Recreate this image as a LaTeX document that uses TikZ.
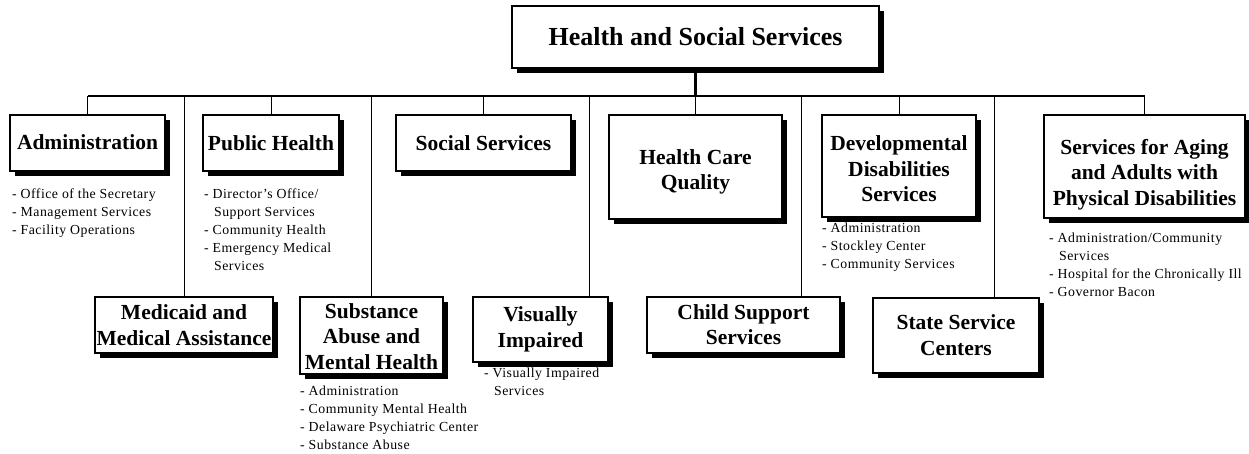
\documentclass[tikz,border=0pt]{standalone}
\usepackage{fontspec}
\setmainfont{Liberation Serif}
\newfontfamily\listfont[LetterSpace=3.5]{Liberation Serif}
\usetikzlibrary{shadows}
\newcommand{\orgtext}[2]{\raisebox{-#1}[\height][\depth]{\begin{tabular}{@{}c@{}}#2\end{tabular}}}
\begin{document}
\begin{tikzpicture}[x=1pt,y=-1pt,
  orgbox/.style={draw, line width=1.3pt, fill=white, inner sep=0pt, align=center,
    font=\bfseries\fontsize{21.5}{25.5}\selectfont,
    drop shadow={shadow xshift=5pt, shadow yshift=-5pt, fill=black, opacity=1}},
  sublist/.style={anchor=north west, inner sep=0pt, align=left,
    font=\listfont\fontsize{13.8}{18}\selectfont},
  barline/.style={line width=1.5pt},
  conn/.style={line width=1pt},
  trunk/.style={line width=3pt}]
\useasboundingbox (0,0) rectangle (1249,453);

% top
\node[orgbox, minimum width=367, minimum height=62, font=\bfseries\fontsize{26}{30}\selectfont] (top) at (695.5,37) {Health and Social Services};

% upper row
\node[orgbox, minimum width=155, minimum height=56] (adm) at (87.5,143) {\orgtext{1pt}{Administration}};
\node[orgbox, minimum width=136, minimum height=56] (ph) at (271,143) {\orgtext{2pt}{Public Health}};
\node[orgbox, minimum width=175, minimum height=56] (soc) at (483.5,143) {\orgtext{2pt}{Social Services}};
\node[orgbox, minimum width=173, minimum height=104] (hcq) at (695.5,167) {\orgtext{5pt}{Health Care\\Quality}};
\node[orgbox, minimum width=154, minimum height=102] (dev) at (899,166) {\orgtext{5pt}{Developmental\\Disabilities\\Services}};
\node[orgbox, minimum width=201, minimum height=103] (agi) at (1144.5,166.5) {\orgtext{8pt}{Services for Aging\\and Adults with\\Physical Disabilities}};

% lower row
\node[orgbox, minimum width=178, minimum height=56] (med) at (184,325) {\orgtext{2.5pt}{Medicaid and\\Medical Assistance}};
\node[orgbox, minimum width=143, minimum height=77] (sub) at (371.5,335.5) {\orgtext{3pt}{Substance\\Abuse and\\Mental Health}};
\node[orgbox, minimum width=135, minimum height=65] (vis) at (540.5,329.5) {\orgtext{0pt}{Visually\\Impaired}};
\node[orgbox, minimum width=193, minimum height=56] (chi) at (743.5,325) {\orgtext{2pt}{Child Support\\Services}};
\node[orgbox, minimum width=166, minimum height=75] (sta) at (956,335.5) {\orgtext{2pt}{State Service\\Centers}};

% junctions on the bar
\coordinate (jAdm) at (87.5,96);
\coordinate (jPh) at (271,96);
\coordinate (jSoc) at (483.5,96);
\coordinate (jHcq) at (695.5,96);
\coordinate (jDev) at (899,96);
\coordinate (jAgi) at (1144.5,96);
\coordinate (jMed) at (184,96);
\coordinate (jSub) at (371.5,96);
\coordinate (jVis) at (589,96);
\coordinate (jChi) at (801,96);
\coordinate (jSta) at (994,96);

\draw[trunk] (top.south) -- (jHcq);
\draw[barline] (jAdm) -- (jAgi);
\draw[conn] (jAdm) -- (adm.north);
\draw[conn] (jPh) -- (ph.north);
\draw[conn] (jSoc) -- (soc.north);
\draw[conn] (jHcq) -- (hcq.north);
\draw[conn] (jDev) -- (dev.north);
\draw[conn] (jAgi) -- (agi.north);
\draw[conn] (jMed) -- (med.north);
\draw[conn] (jSub) -- (sub.north);
\draw[conn] (jVis) -- (jVis |- vis.north);
\draw[conn] (jChi) -- (jChi |- chi.north);
\draw[conn] (jSta) -- (jSta |- sta.north);

% sub-lists
\node[sublist] (admlist) at (12,189) {- Office of the Secretary\\- Management Services\\- Facility Operations};
\node[sublist] (phlist) at (204,189) {- Director’s Office/\\\hspace{10pt}Support Services\\- Community Health\\- Emergency Medical\\\hspace{10pt}Services};
\node[sublist] (devlist) at (822,223) {- Administration\\- Stockley Center\\- Community Services};
\node[sublist] (agilist) at (1049,233) {- Administration/Community\\\hspace{10pt}Services\\- Hospital for the Chronically Ill\\- Governor Bacon};
\node[sublist] (sublist) at (300,386) {- Administration\\- Community Mental Health\\- Delaware Psychiatric Center\\- Substance Abuse};
\node[sublist] (vislist) at (484,368) {- Visually Impaired\\\hspace{10pt}Services};
\end{tikzpicture}
\end{document}
